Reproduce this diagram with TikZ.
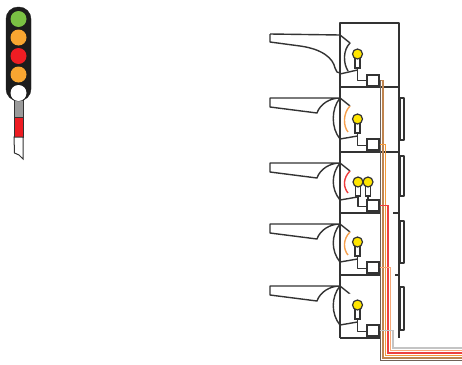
\documentclass[tikz,border=0pt]{standalone}
\definecolor{lineg}{HTML}{333333}
\definecolor{headblack}{HTML}{1C1C1C}
\definecolor{lgreen}{HTML}{7AC143}
\definecolor{lamber}{HTML}{F8A631}
\definecolor{lred}{HTML}{EE1D23}
\definecolor{postgray}{HTML}{9A9A9A}
\definecolor{bulbyellow}{HTML}{FFE500}
\definecolor{arcorange}{HTML}{F6A04D}
\definecolor{arcred}{HTML}{EE3B3B}
\definecolor{wcommon}{HTML}{6F6157}
\definecolor{wtan}{HTML}{C08550}
\definecolor{worange}{HTML}{F39A3A}
\definecolor{wred}{HTML}{EC4040}
\definecolor{wpeach}{HTML}{F7A878}
\definecolor{wgray}{HTML}{C4C4C4}
\begin{document}
\begin{tikzpicture}[x=1pt,y=-1pt,
  outl/.style={draw=lineg,line width=1.4pt,line join=round},
  lamp/.style={circle,minimum size=16pt,inner sep=0pt},
  bulb/.style={circle,draw=lineg,fill=bulbyellow,line width=1.2pt,minimum size=10pt,inner sep=0pt},
  socket/.style={draw=lineg,line width=1.2pt,fill=white,minimum width=5pt,minimum height=10pt,inner sep=0pt},
  termbox/.style={draw=lineg,line width=1.4pt,fill=white,minimum width=12pt,minimum height=11pt,inner sep=0pt},
  wire/.style={line width=1.6pt,line cap=butt,line join=miter},
]
\useasboundingbox (0,0) rectangle (462,364);

% ---- signal post and head ----
\draw[draw=lineg,line width=1pt,fill=postgray] (14,98) rectangle (23,117);
\draw[draw=lineg,line width=1pt,fill=lred] (14,117) rectangle (23,137);
\draw[draw=lineg,line width=1pt,fill=white] (14,137) -- (14.5,153) -- (19,155) -- (23,159) -- (23,137) -- cycle;
\draw[fill=headblack,draw=headblack,rounded corners=12pt] (6,7) rectangle (31,101);
\node[lamp,fill=lgreen] (l1) at (18.5,19) {};
\node[lamp,fill=lamber] (l2) at (18.5,37.5) {};
\node[lamp,fill=lred]   (l3) at (18.5,56) {};
\node[lamp,fill=lamber] (l4) at (18.5,74.5) {};
\node[lamp,fill=white]  (l5) at (18.5,93) {};

% ---- housing frame ----
\draw[outl] (340,23) rectangle (399,87);
\draw[outl] (340,87) -- (340,338);
\draw[outl] (399,87) -- (399,338);
\draw[outl] (340,152) -- (399,152);
\draw[outl] (340,213) -- (380,213) (393,213) -- (399,213);
\draw[outl] (340,275) -- (380,275) (395,275) -- (399,275);
\draw[outl] (340,338) -- (380,338);
% side plates
\foreach \ya/\yb in {98/140,156/196,221/263,287/330}
  \draw[outl] (400,\ya) rectangle (404,\yb);

% ---- top section: hooded lens ----
\draw[outl] (270,34) -- (340,35) (270,34) -- (270,42) -- (300,46)
  .. controls (322,49) and (333,58) .. (335,68) -- (337,72) -- (340,73);
\draw[outl] (340,35) -- (350,43) .. controls (343,50) and (343,63) .. (348,71);
\draw[outl] (340,74) -- (357.5,70);
\node[socket] (s1) at (357.5,63) {};
\node[bulb] (b1) at (357.5,54) {};
\node[termbox] (t1) at (373,80.5) {};
\draw[outl] (s1.south) |- (t1.west);

% ---- lower sections: hood, lens and coloured screen ----
\foreach \t/\b/\c/\n in {87/152/arcorange/2,152/213/arcred/3,213/275/arcorange/4,275/338/white/5}{
  \draw[outl] (270,\t+11) -- (340,\t+11)
    .. controls (330,\t+11) and (320,\t+17) .. (317,\t+26) -- (270,\t+20) -- cycle;
  \draw[outl] (340,\t+11) .. controls (331,\t+22) and (331,\b-24) .. (340,\b-13);
  \draw[outl] (340,\t+11) -- (350,\t+19);
  \draw[outl] (340,\b-13) -- (357.5,\b-16);
  \draw[draw=\c,line width=1.4pt] (350,\t+19) .. controls (343,\t+26) and (343,\b-26) .. (348,\b-20);
  \node[termbox] (t\n) at (373,\b-7.5) {};
}

% single bulbs
\foreach \b/\n in {152/2,275/4,338/5}{
  \node[socket] (s\n) at (357.5,\b-24) {};
  \node[bulb] (b\n) at (357.5,\b-33) {};
  \draw[outl] (s\n.south) |- ([yshift=-1pt]t\n.west);
}
% double bulb in the middle section
\node[socket] (s3a) at (358,191) {};
\node[bulb] (b3a) at (358,182) {};
\node[socket] (s3b) at (368,191) {};
\node[bulb] (b3b) at (368,182) {};
\draw[outl] (s3a.south) |- ([yshift=-1pt]t3.west);
\draw[outl] (s3b.south) -- (368,200);

% ---- cable bundle ----
\draw[wire,wtan]    (t1.east) -- (383.1,80.5) -- (383.1,358) -- (462,358);
\draw[wire,wcommon] (t1.east) -- (380.6,80.5) -- (380.6,360.5) -- (462,360.5);
\draw[wire,worange] (t2.east) -- (385.6,144.5) -- (385.6,355.5) -- (462,355.5);
\draw[wire,wred]    (t3.east) -- (388.1,205.5) -- (388.1,353) -- (462,353);
\draw[wire,wpeach]  (t4.east) -- (390.6,267.5) -- (390.6,350.5) -- (462,350.5);
\draw[wire,wgray]   (t5.east) -- (393.1,330.5) -- (393.1,348) -- (462,348);
\end{tikzpicture}
\end{document}
